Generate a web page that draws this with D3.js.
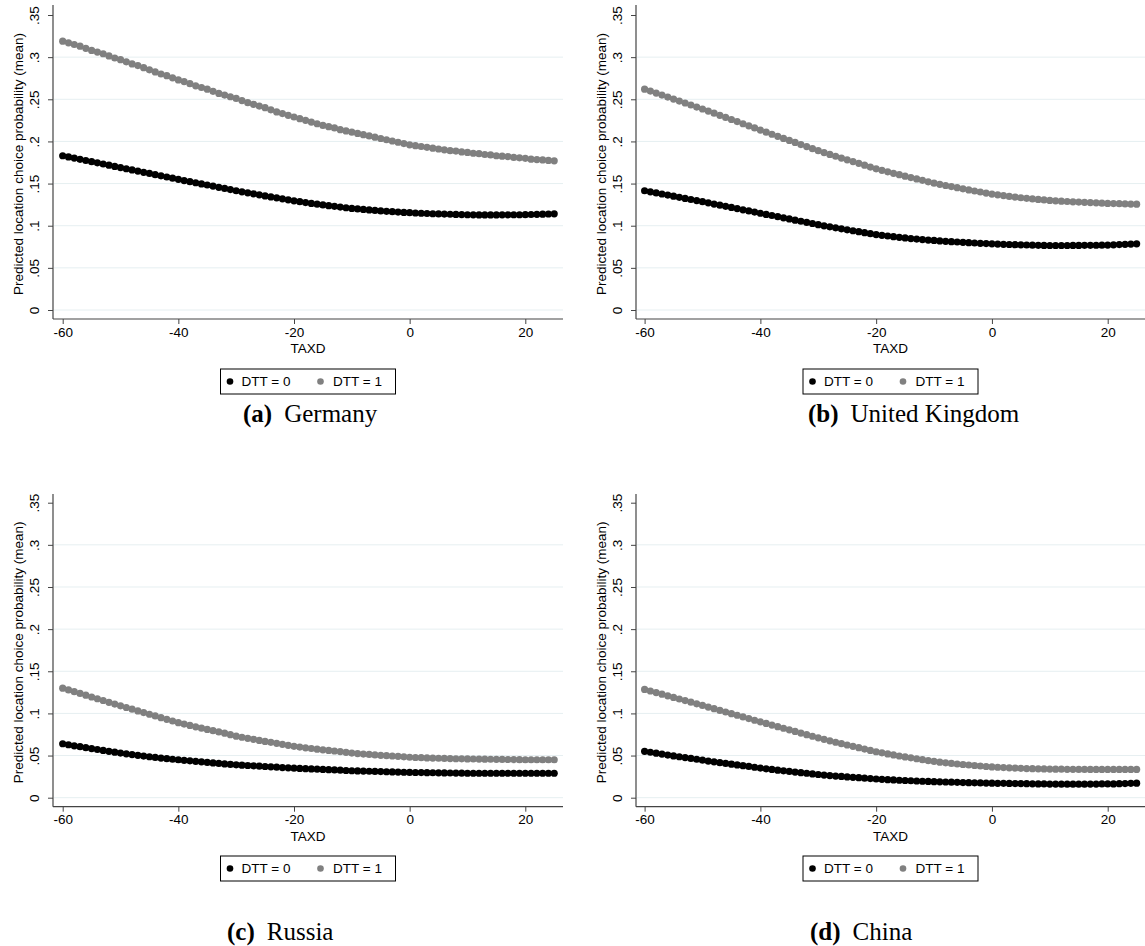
<!DOCTYPE html>
<html>
<head>
<meta charset="utf-8">
<script src="https://cdn.jsdelivr.net/npm/d3@7"></script>
<style>
  html, body { margin: 0; padding: 0; background: #fff; }
  svg { display: block; }
</style>
</head>
<body>
<svg id="chart" width="1145" height="946"></svg>
<script>
// ---------------- DATA ----------------
const taxd = d3.range(-60, 26); // TAXD = -60 ... 25
const yTickValues = [0, 0.05, 0.1, 0.15, 0.2, 0.25, 0.3, 0.35];
const yTickLabels = ["0", ".05", ".1", ".15", ".2", ".25", ".3", ".35"];
const xTickValues = [-60, -40, -20, 0, 20];
const xTickLabels = ["-60", "-40", "-20", "0", "20"];
const seriesNames = ["DTT = 0", "DTT = 1"];
const countries = ["Germany", "United Kingdom", "Russia", "China"];
const letters = ["a", "b", "c", "d"];

const germanyDTT0 = [
  .183,.1816,.1802,.1788,.1774,.176,.1746,.1732,.1718,.1704,.169,
  .1676,.1662,.1648,.1634,.162,.1606,.1592,.1578,.1564,.155,
  .1536,.1523,.151,.1496,.1483,.147,.1456,.1443,.1429,.1415,
  .1402,.139,.1378,.1366,.1354,.1342,.1331,.1319,.1307,.1295,
  .1285,.1275,.1265,.1256,.1247,.1238,.123,.1221,.1213,.1205,
  .1199,.1193,.1187,.1181,.1176,.1171,.1166,.1162,.1158,.1155,
  .1151,.1148,.1145,.1142,.114,.1138,.1136,.1134,.1132,.113,
  .1129,.1128,.1128,.1128,.1128,.1129,.1129,.113,.113,.1131,
  .1133,.1135,.1137,.1139,.1141];
const germanyDTT1 = [
  .319,.317,.315,.313,.3105,.308,.306,.304,.3015,.299,.297,
  .2945,.292,.290,.2875,.285,.2825,.280,.278,.2755,.273,
  .271,.2685,.266,.264,.262,.2595,.257,.255,.253,.251,
  .2485,.246,.244,.242,.240,.2375,.235,.233,.231,.229,
  .227,.225,.223,.221,.219,.2175,.216,.214,.2125,.211,
  .2095,.208,.2065,.205,.2035,.202,.2005,.199,.1975,.196,
  .195,.194,.193,.192,.191,.190,.189,.1885,.1875,.187,
  .186,.1855,.1845,.184,.183,.1825,.182,.181,.1805,.180,
  .179,.1785,.178,.1775,.177];
const ukDTT0 = [
  .1415,.1402,.1389,.1376,.1363,.135,.1337,.1324,.1311,.1298,.1285,
  .1271,.1257,.1244,.123,.1217,.1203,.1189,.1176,.1162,.1148,
  .1134,.1121,.1107,.1094,.108,.1066,.1053,.1039,.1026,.1012,
  .0999,.0987,.0975,.0963,.0951,.094,.0929,.0917,.0906,.0895,
  .0886,.0878,.087,.0862,.0855,.0848,.0842,.0836,.083,.0825,
  .082,.0815,.0811,.0807,.0803,.0799,.0795,.0791,.0788,.0785,
  .0782,.0779,.0777,.0775,.0773,.0771,.0769,.0767,.0766,.0765,
  .0765,.0765,.0765,.0766,.0766,.0767,.0767,.0768,.0769,.077,
  .0773,.0776,.0779,.0782,.0785];
const ukDTT1 = [
  .262,.2597,.2574,.255,.2526,.2503,.2479,.2456,.2432,.2408,.2385,
  .236,.2335,.231,.2285,.226,.2235,.221,.2185,.216,.2135,
  .211,.2085,.2061,.2036,.2012,.1988,.1963,.1939,.1914,.189,
  .1868,.1846,.1824,.1803,.1782,.1761,.174,.1718,.1696,.1675,
  .1657,.1639,.1622,.1605,.1588,.1571,.1555,.1538,.1521,.1505,
  .1491,.1477,.1464,.1451,.1438,.1425,.1412,.14,.1387,.1375,
  .1366,.1357,.1348,.134,.1332,.1325,.1318,.1312,.1306,.130,
  .1295,.1291,.1287,.1283,.128,.1277,.1274,.1271,.1268,.1265,
  .1263,.1261,.1259,.1257,.1255];
const russiaDTT0 = [
  .064,.0628,.0616,.0605,.0594,.0583,.0572,.0561,.055,.054,.053,
  .0521,.0512,.0503,.0494,.0486,.0478,.047,.0463,.0456,.045,
  .0443,.0437,.0431,.0425,.0419,.0413,.0407,.0401,.0395,.039,
  .0386,.0382,.0378,.0374,.037,.0366,.0362,.0358,.0354,.035,
  .0347,.0344,.0341,.0338,.0335,.0332,.0329,.0326,.0323,.032,
  .0318,.0316,.0314,.0312,.031,.0308,.0306,.0304,.0302,.030,
  .0299,.0298,.0297,.0296,.0295,.0294,.0293,.0292,.0291,.029,
  .029,.029,.029,.029,.029,.029,.029,.029,.029,.029,
  .029,.029,.029,.029,.029];
const russiaDTT1 = [
  .130,.1279,.1258,.1237,.1216,.1195,.1174,.1153,.1132,.1111,.109,
  .107,.105,.103,.101,.099,.097,.095,.093,.091,.089,
  .0873,.0857,.0841,.0825,.081,.0795,.078,.0765,.0748,.073,
  .0717,.0704,.0692,.068,.0668,.0657,.0645,.0633,.0621,.061,
  .0601,.0592,.0584,.0576,.0568,.0561,.0554,.0547,.0538,.053,
  .0524,.0518,.0513,.0508,.0503,.0499,.0495,.0491,.0485,.048,
  .0477,.0475,.0472,.047,.0468,.0466,.0464,.0462,.0461,.046,
  .0459,.0458,.0457,.0456,.0455,.0454,.0453,.0452,.0451,.045,
  .045,.045,.045,.045,.045];
const chinaDTT0 = [
  .055,.0539,.0528,.0517,.0506,.0496,.0486,.0476,.0466,.0456,.0445,
  .0435,.0425,.0416,.0407,.0398,.0389,.038,.0371,.0361,.0352,
  .0343,.0335,.0327,.0319,.0312,.0304,.0297,.029,.0282,.0275,
  .0269,.0263,.0257,.0252,.0247,.0242,.0237,.0232,.0227,.0222,
  .0218,.0214,.0211,.0207,.0204,.0201,.0198,.0195,.0193,.019,
  .0188,.0186,.0184,.0182,.018,.0178,.0177,.0175,.0174,.0172,
  .0171,.017,.0169,.0168,.0167,.0166,.0165,.0164,.0163,.0162,
  .0162,.0161,.0161,.0161,.0161,.0161,.0162,.0162,.0163,.0163,
  .0164,.0166,.0168,.017,.0172];
const chinaDTT1 = [
  .1285,.1266,.1247,.1228,.1209,.119,.1171,.1152,.1133,.1114,.1095,
  .1075,.1056,.1036,.1017,.0997,.0978,.0958,.0939,.0919,.090,
  .0881,.0862,.0843,.0824,.0805,.0786,.0767,.0748,.0729,.071,
  .0692,.0675,.0658,.0641,.0625,.0609,.0593,.0577,.0561,.0545,
  .0532,.0519,.0507,.0495,.0484,.0473,.0462,.0451,.044,.043,
  .0422,.0414,.0407,.04,.0394,.0388,.0382,.0376,.037,.0365,
  .0361,.0357,.0354,.0351,.0348,.0346,.0344,.0342,.0341,.034,
  .0339,.0338,.0337,.0337,.0336,.0336,.0335,.0335,.0335,.0335,
  .0335,.0335,.0335,.0335,.0335];

const panelSeries = [
  [germanyDTT0, germanyDTT1],
  [ukDTT0, ukDTT1],
  [russiaDTT0, russiaDTT1],
  [chinaDTT0, chinaDTT1]
];

// ---------------- LAYOUT ----------------
const colors = ["#000000", "#808080"];
const layout = [
  { axisX: 53,  right: 563,  xA: 62.7,  xB: 525.3,  y0: 310,   y35: 15,    axisY: 319,   topY: 5,   legTop: 369, capX: 243, capY: 422 },
  { axisX: 636, right: 1145, xA: 644.6, xB: 1107.7, y0: 310,   y35: 15,    axisY: 319,   topY: 5,   legTop: 369, capX: 808, capY: 422 },
  { axisX: 53,  right: 563,  xA: 62.7,  xB: 525.3,  y0: 797.7, y35: 502.7, axisY: 806.7, topY: 494, legTop: 856, capX: 227, capY: 940 },
  { axisX: 636, right: 1145, xA: 644.6, xB: 1107.7, y0: 797.7, y35: 502.7, axisY: 806.7, topY: 494, legTop: 856, capX: 810, capY: 940 }
];

const font = "Liberation Sans, Arial, Helvetica, sans-serif";
const svg = d3.select("#chart");

layout.forEach((L, i) => {
  const g = svg.append("g");
  const x = d3.scaleLinear().domain([-60, 20]).range([L.xA, L.xB]);
  const y = d3.scaleLinear().domain([0, 0.35]).range([L.y0, L.y35]);

  // grid lines
  g.append("g").selectAll("line").data(yTickValues.filter(v => v < 0.34)).join("line")
    .attr("x1", L.axisX + 1).attr("x2", L.right)
    .attr("y1", d => y(d)).attr("y2", d => y(d))
    .attr("stroke", "#e6eff1").attr("stroke-width", 1);

  // y axis
  const yAxis = d3.axisLeft(y).tickValues(yTickValues)
    .tickFormat((d, k) => yTickLabels[k]).tickSize(5).tickSizeOuter(0);
  const ya = g.append("g").attr("transform", `translate(${L.axisX},0)`).call(yAxis);
  ya.select(".domain").remove();
  ya.selectAll(".tick line").attr("stroke", "#444");
  ya.selectAll(".tick text")
    .attr("x", null).attr("dy", null)
    .attr("transform", "translate(-18.5,0) rotate(-90)")
    .attr("text-anchor", "middle").attr("dy", "0.35em")
    .attr("fill", "#000").style("font", `13.5px ${font}`);
  g.append("line").attr("x1", L.axisX).attr("x2", L.axisX)
    .attr("y1", L.topY).attr("y2", L.axisY).attr("stroke", "#444").attr("stroke-width", 1.2);

  // x axis
  const xAxis = d3.axisBottom(x).tickValues(xTickValues)
    .tickFormat((d, k) => xTickLabels[k]).tickSize(5).tickSizeOuter(0);
  const xa = g.append("g").attr("transform", `translate(0,${L.axisY})`).call(xAxis);
  xa.select(".domain").remove();
  xa.selectAll(".tick line").attr("stroke", "#444");
  xa.selectAll(".tick text").attr("y", 8).attr("fill", "#000").style("font", `13.5px ${font}`);
  g.append("line").attr("x1", L.axisX).attr("x2", L.right)
    .attr("y1", L.axisY).attr("y2", L.axisY).attr("stroke", "#444").attr("stroke-width", 1.2);

  const cx = (L.axisX + L.right) / 2;
  // axis titles
  g.append("text").attr("x", cx).attr("y", L.axisY + 34).attr("text-anchor", "middle")
    .style("font", `13.5px ${font}`).text("TAXD");
  g.append("text").attr("transform", `translate(${L.axisX - 35},${(L.axisY + L.topY) / 2 + 2}) rotate(-90)`)
    .attr("text-anchor", "middle").attr("dy", "0.35em")
    .style("font", `13.5px ${font}`).text("Predicted location choice probability (mean)");

  // points
  panelSeries[i].forEach((vals, s) => {
    g.append("g").selectAll("circle").data(vals).join("circle")
      .attr("cx", (d, k) => x(taxd[k])).attr("cy", d => y(d))
      .attr("r", 3.6).attr("fill", colors[s]);
  });

  // legend
  const lx = cx - 87.5;
  const lg = g.append("g").attr("transform", `translate(${lx},${L.legTop})`);
  lg.append("rect").attr("x", 0).attr("y", 0).attr("width", 175).attr("height", 25)
    .attr("fill", "#fff").attr("stroke", "#000").attr("stroke-width", 1);
  const items = [{ dot: 9.5, text: 21 }, { dot: 100, text: 112.5 }];
  items.forEach((it, s) => {
    lg.append("circle").attr("cx", it.dot).attr("cy", 12.5).attr("r", 3.3).attr("fill", colors[s]);
    lg.append("text").attr("x", it.text).attr("y", 17.3).style("font", `13.5px ${font}`).text(seriesNames[s]);
  });

  // caption
  const cap = svg.append("text").attr("x", L.capX).attr("y", L.capY)
    .style("font-family", "Liberation Serif, Times New Roman, serif").style("font-size", "25px");
  cap.append("tspan").attr("font-weight", "bold").text(`(${letters[i]})`);
  cap.append("tspan").attr("dx", 12).text(countries[i]);
});
</script>
</body>
</html>
